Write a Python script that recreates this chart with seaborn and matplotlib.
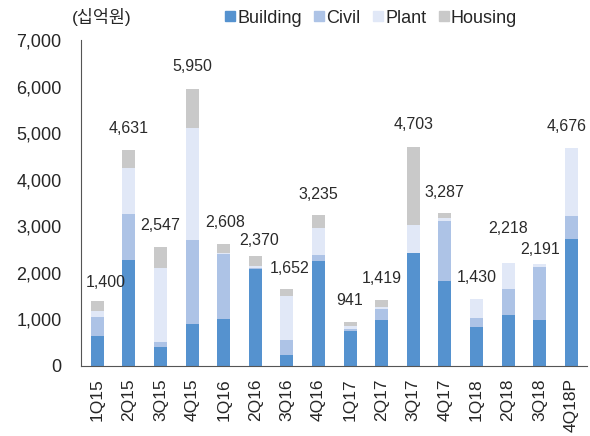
import numpy as np
import pandas as pd
import matplotlib
matplotlib.use("Agg")
import matplotlib.pyplot as plt
import seaborn as sns
from matplotlib.lines import Line2D

# data (십억원)
quarters = ["1Q15", "2Q15", "3Q15", "4Q15", "1Q16", "2Q16", "3Q16", "4Q16",
            "1Q17", "2Q17", "3Q17", "4Q17", "1Q18", "2Q18", "3Q18", "4Q18P"]
building = [644, 2270, 395, 895, 1016, 2080, 222, 2255, 752, 990, 2415, 1825, 838, 1095, 990, 2720]
civil = [408, 990, 115, 1800, 1396, 25, 322, 130, 30, 235, 20, 1290, 200, 566, 1140, 500]
plant = [129, 1000, 1600, 2420, 15, 30, 966, 580, 70, 30, 585, 70, 392, 557, 61, 1456]
housing = [219, 371, 437, 835, 181, 235, 142, 270, 89, 164, 1683, 102, 0, 0, 0, 0]
totals = [1400, 4631, 2547, 5950, 2608, 2370, 1652, 3235,
          941, 1419, 4703, 3287, 1430, 2218, 2191, 4676]

series = ["Building", "Civil", "Plant", "Housing"]
colors = ["#5592cf", "#adc3e6", "#e1e8f7", "#c9c9c9"]

# label placement above each bar (points), as in the original
label_dy = [13, 16, 16, 16, 16, 11, 15, 15, 15.5, 15, 16, 15, 15.5, 24.5, 10, 15.5]
label_dx = [6, 0, 0, 0, 1, 3, 2, 0, 0, 0, 0, 0, 0, 0, 0, -3]

df = pd.DataFrame({"q": quarters, "Building": building, "Civil": civil,
                   "Plant": plant, "Housing": housing})
cum = df[series].cumsum(axis=1)

sns.set_style("white")
plt.rcParams['font.family'] = ['Liberation Sans', 'Noto Sans CJK KR', 'DejaVu Sans']
plt.rcParams['axes.unicode_minus'] = False

fig = plt.figure(figsize=(5.9, 4.36), dpi=100)
ax = fig.add_axes([0.137, 0.161, 0.858, 0.747])

# draw stacks from top down so lower segments overlay
for s, c in reversed(list(zip(series, colors))):
    sns.barplot(x=df["q"], y=cum[s], color=c, width=0.41, ax=ax,
                saturation=1, linewidth=0)

for i, t in enumerate(totals):
    ax.annotate(f"{t:,}", (i, t), xytext=(label_dx[i], label_dy[i]),
                textcoords="offset points", ha="center", va="center",
                fontsize=11.5, color="#2a2a2a", annotation_clip=False)

ax.set_ylim(0, 7000)
ax.set_xlim(-0.52, len(quarters) - 0.5)
ax.set_yticks(range(0, 7001, 1000))
ax.set_yticklabels([f"{v:,}" for v in range(0, 7001, 1000)], fontsize=13)
ax.set_xticks(range(len(quarters)))
ax.set_xticklabels(quarters, rotation=90, fontsize=12.5)
ax.set_xlabel("")
ax.set_ylabel("")
ax.tick_params(axis="y", direction="in", length=4, color="#555555", pad=14)
ax.tick_params(axis="x", length=0, pad=9)
for side in ["top", "right"]:
    ax.spines[side].set_visible(False)
ax.spines["left"].set_color("#555555")
ax.spines["bottom"].set_color("#555555")

fig.text(0.122, 0.96, "(십억원)", fontsize=12.5, ha="left", va="center")

handles = [Line2D([], [], marker="s", linestyle="", markersize=7.5,
                  markerfacecolor=c, markeredgecolor=c) for c in colors]
fig.legend(handles, series, loc="center", bbox_to_anchor=(0.628, 0.958),
           ncol=4, frameon=False, fontsize=13, handletextpad=0.05,
           columnspacing=0.6, handlelength=0.7)

fig.savefig("out.png", dpi=100)
